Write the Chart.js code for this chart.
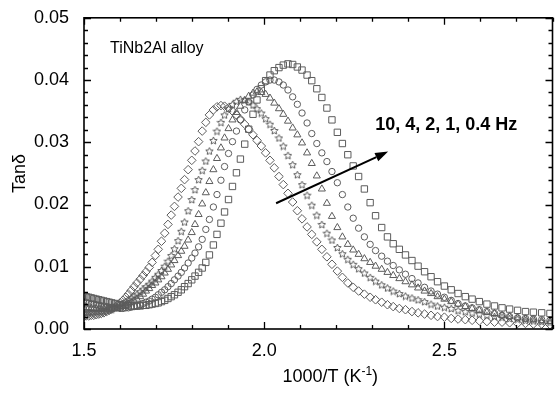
<!DOCTYPE html>
<html>
<head>
<meta charset="utf-8">
<script src="https://cdn.jsdelivr.net/npm/chart.js@4.4.0/dist/chart.umd.min.js"></script>
<style>
  html, body { margin: 0; padding: 0; background: #fff; }
  #wrap { width: 558px; height: 393px; }
</style>
</head>
<body>
<div id="wrap"><canvas id="myChart" width="558" height="393"></canvas></div>
<script>
// 1000/T (K^-1), shared by all frequencies
var invT = [
  1.499, 1.506, 1.513, 1.520, 1.527, 1.534, 1.541, 1.548, 1.555, 1.563, 1.570, 1.577, 1.585,
  1.592, 1.600, 1.608, 1.616, 1.623, 1.631, 1.639, 1.647, 1.656, 1.664, 1.672, 1.681, 1.689,
  1.698, 1.706, 1.715, 1.724, 1.733, 1.742, 1.751, 1.761, 1.770, 1.779, 1.789, 1.799, 1.808,
  1.818, 1.828, 1.838, 1.848, 1.859, 1.869, 1.880, 1.890, 1.901, 1.912, 1.923, 1.934, 1.946,
  1.957, 1.969, 1.980, 1.992, 2.004, 2.016, 2.028, 2.041, 2.053, 2.066, 2.079, 2.092, 2.105,
  2.119, 2.132, 2.146, 2.160, 2.174, 2.188, 2.203, 2.217, 2.232, 2.247, 2.262, 2.278, 2.294,
  2.309, 2.326, 2.342, 2.358, 2.375, 2.392, 2.410, 2.427, 2.445, 2.463, 2.481, 2.500, 2.519,
  2.538, 2.558, 2.577, 2.597, 2.618, 2.639, 2.660, 2.681, 2.703, 2.725, 2.747, 2.770, 2.793
];

var tan10Hz = [
  0.0020, 0.0021, 0.0021, 0.0022, 0.0022, 0.0023, 0.0024, 0.0025, 0.0026, 0.0028, 0.0030, 0.0032, 0.0035,
  0.0038, 0.0042, 0.0046, 0.0051, 0.0056, 0.0062, 0.0068, 0.0074, 0.0080, 0.0086, 0.0092, 0.0099, 0.0107,
  0.0118, 0.0128, 0.0141, 0.0154, 0.0168, 0.0183, 0.0197, 0.0212, 0.0226, 0.0240, 0.0256, 0.0271, 0.0286,
  0.0301, 0.0318, 0.0332, 0.0344, 0.0352, 0.0357, 0.0359, 0.0358, 0.0355, 0.0350, 0.0344, 0.0337, 0.0329,
  0.0321, 0.0312, 0.0303, 0.0294, 0.0283, 0.0271, 0.0259, 0.0245, 0.0232, 0.0218, 0.0204, 0.0190, 0.0177,
  0.0164, 0.0152, 0.0140, 0.0128, 0.0116, 0.0104, 0.0093, 0.0083, 0.0074, 0.0067, 0.0061, 0.0056, 0.0051,
  0.0047, 0.0043, 0.0039, 0.0036, 0.0033, 0.0031, 0.0028, 0.0026, 0.0024, 0.0022, 0.0020, 0.0019, 0.0017,
  0.0016, 0.0015, 0.0014, 0.0013, 0.0012, 0.0011, 0.0011, 0.0010, 0.0009, 0.0009, 0.0008, 0.0008, 0.0007
];

var tan4Hz = [
  0.0026, 0.0026, 0.0027, 0.0027, 0.0027, 0.0028, 0.0028, 0.0029, 0.0029, 0.0030, 0.0031, 0.0032, 0.0034,
  0.0036, 0.0038, 0.0041, 0.0044, 0.0047, 0.0050, 0.0053, 0.0056, 0.0060, 0.0064, 0.0068, 0.0072, 0.0077,
  0.0083, 0.0088, 0.0094, 0.0101, 0.0109, 0.0118, 0.0129, 0.0142, 0.0157, 0.0172, 0.0190, 0.0208, 0.0224,
  0.0240, 0.0255, 0.0270, 0.0286, 0.0303, 0.0318, 0.0332, 0.0344, 0.0354, 0.0361, 0.0366, 0.0369, 0.0368,
  0.0365, 0.0360, 0.0354, 0.0347, 0.0338, 0.0329, 0.0319, 0.0307, 0.0294, 0.0279, 0.0264, 0.0248, 0.0232,
  0.0215, 0.0199, 0.0183, 0.0168, 0.0154, 0.0143, 0.0131, 0.0121, 0.0112, 0.0104, 0.0097, 0.0090, 0.0083,
  0.0077, 0.0071, 0.0066, 0.0061, 0.0057, 0.0053, 0.0050, 0.0047, 0.0044, 0.0040, 0.0037, 0.0035, 0.0033,
  0.0030, 0.0028, 0.0026, 0.0024, 0.0022, 0.0020, 0.0019, 0.0017, 0.0016, 0.0014, 0.0013, 0.0012, 0.0011
];

var tan2Hz = [
  0.0034, 0.0034, 0.0034, 0.0033, 0.0033, 0.0033, 0.0032, 0.0032, 0.0032, 0.0032, 0.0032, 0.0032, 0.0033,
  0.0033, 0.0034, 0.0036, 0.0038, 0.0040, 0.0042, 0.0045, 0.0048, 0.0052, 0.0056, 0.0061, 0.0065, 0.0070,
  0.0074, 0.0079, 0.0084, 0.0090, 0.0096, 0.0103, 0.0110, 0.0118, 0.0125, 0.0133, 0.0143, 0.0155, 0.0168,
  0.0184, 0.0201, 0.0219, 0.0237, 0.0256, 0.0274, 0.0291, 0.0307, 0.0322, 0.0336, 0.0348, 0.0358, 0.0367,
  0.0374, 0.0379, 0.0381, 0.0380, 0.0377, 0.0371, 0.0363, 0.0354, 0.0345, 0.0334, 0.0323, 0.0312, 0.0299,
  0.0283, 0.0266, 0.0246, 0.0225, 0.0202, 0.0181, 0.0163, 0.0148, 0.0136, 0.0127, 0.0120, 0.0113, 0.0107,
  0.0101, 0.0096, 0.0091, 0.0086, 0.0081, 0.0076, 0.0071, 0.0066, 0.0061, 0.0057, 0.0052, 0.0048, 0.0044,
  0.0040, 0.0036, 0.0033, 0.0030, 0.0027, 0.0025, 0.0022, 0.0020, 0.0018, 0.0016, 0.0015, 0.0013, 0.0012
];

var tan1Hz = [
  0.0043, 0.0042, 0.0041, 0.0040, 0.0040, 0.0039, 0.0038, 0.0037, 0.0037, 0.0036, 0.0035, 0.0035, 0.0034,
  0.0034, 0.0033, 0.0033, 0.0034, 0.0034, 0.0035, 0.0036, 0.0037, 0.0039, 0.0041, 0.0043, 0.0045, 0.0048,
  0.0051, 0.0055, 0.0059, 0.0063, 0.0068, 0.0073, 0.0079, 0.0085, 0.0091, 0.0098, 0.0106, 0.0114, 0.0122,
  0.0132, 0.0144, 0.0160, 0.0176, 0.0196, 0.0216, 0.0239, 0.0261, 0.0282, 0.0301, 0.0318, 0.0336, 0.0352,
  0.0365, 0.0376, 0.0385, 0.0392, 0.0397, 0.0400, 0.0400, 0.0397, 0.0392, 0.0384, 0.0373, 0.0361, 0.0347,
  0.0331, 0.0314, 0.0298, 0.0283, 0.0269, 0.0253, 0.0235, 0.0216, 0.0196, 0.0178, 0.0162, 0.0148, 0.0136,
  0.0126, 0.0117, 0.0109, 0.0102, 0.0095, 0.0088, 0.0081, 0.0074, 0.0067, 0.0061, 0.0056, 0.0051, 0.0046,
  0.0041, 0.0037, 0.0034, 0.0031, 0.0028, 0.0025, 0.0022, 0.0020, 0.0018, 0.0017, 0.0016, 0.0015, 0.0014
];

var tan04Hz = [
  0.0053, 0.0052, 0.0051, 0.0050, 0.0049, 0.0048, 0.0047, 0.0046, 0.0045, 0.0044, 0.0043, 0.0042, 0.0041,
  0.0040, 0.0039, 0.0038, 0.0038, 0.0037, 0.0037, 0.0037, 0.0037, 0.0037, 0.0038, 0.0038, 0.0039, 0.0040,
  0.0041, 0.0042, 0.0044, 0.0046, 0.0049, 0.0052, 0.0055, 0.0059, 0.0063, 0.0068, 0.0073, 0.0079, 0.0085,
  0.0091, 0.0098, 0.0107, 0.0119, 0.0135, 0.0152, 0.0170, 0.0188, 0.0208, 0.0229, 0.0251, 0.0273, 0.0297,
  0.0321, 0.0345, 0.0368, 0.0386, 0.0399, 0.0408, 0.0415, 0.0420, 0.0424, 0.0426, 0.0425, 0.0421, 0.0416,
  0.0408, 0.0399, 0.0386, 0.0372, 0.0355, 0.0336, 0.0316, 0.0298, 0.0280, 0.0262, 0.0245, 0.0225, 0.0203,
  0.0182, 0.0163, 0.0148, 0.0137, 0.0128, 0.0119, 0.0110, 0.0101, 0.0092, 0.0084, 0.0076, 0.0069, 0.0063,
  0.0057, 0.0052, 0.0048, 0.0044, 0.0040, 0.0037, 0.0034, 0.0032, 0.0030, 0.0028, 0.0027, 0.0026, 0.0025
];

var freqLabels = ["10 Hz", "4 Hz", "2 Hz", "1 Hz", "0.4 Hz"];

var xTicks = [1.5, 2.0, 2.5];
var xMinorTicks = [1.6, 1.7, 1.8, 1.9, 2.1, 2.2, 2.3, 2.4, 2.6, 2.7, 2.8];
var yTicks = [0, 0.01, 0.02, 0.03, 0.04, 0.05];
var yMinorTicks = [
  0.002, 0.004, 0.006, 0.008, 0.012, 0.014, 0.016, 0.018, 0.022, 0.024, 0.026, 0.028,
  0.032, 0.034, 0.036, 0.038, 0.042, 0.044, 0.046, 0.048
];

// arrow and labels, in data units
var arrowFrom = [2.033, 0.0202];
var arrowTo = [2.344, 0.0285];
var freqNote = "10, 4, 2, 1, 0.4 Hz";
var freqNotePos = [2.308, 0.0327];
var alloyNote = "TiNb2Al alloy";
var alloyNotePos = [1.572, 0.0451];

const FONT = "'Liberation Sans', Arial, sans-serif";
const markColor = "#5c5c5c";

function starMark(size, color) {
  const c = document.createElement("canvas");
  c.width = size;
  c.height = size;
  const g = c.getContext("2d");
  const cx = size / 2, cy = size / 2 + 0.4;
  const R = size / 2 - 0.6, r = R * 0.47;
  g.beginPath();
  for (let i = 0; i < 10; i++) {
    const rad = i % 2 ? r : R;
    const ang = -Math.PI / 2 + (i * Math.PI) / 5;
    g.lineTo(cx + rad * Math.cos(ang), cy + rad * Math.sin(ang));
  }
  g.closePath();
  g.strokeStyle = color;
  g.lineWidth = 1;
  g.stroke();
  return c;
}

function toPoints(ys) {
  return ys.map((y, i) => ({ x: invT[i], y: y }));
}

const seriesValues = [tan10Hz, tan4Hz, tan2Hz, tan1Hz, tan04Hz];
const seriesStyle = [
  { pointStyle: "rectRot", radius: 4.3 },
  { pointStyle: starMark(9, markColor), radius: 4.5 },
  { pointStyle: "triangle", radius: 4.1 },
  { pointStyle: "circle", radius: 3.2 },
  { pointStyle: "rect", radius: 4.5 },
];

const datasets = seriesValues.map((ys, k) => ({
  label: freqLabels[k],
  data: toPoints(ys),
  showLine: false,
  pointStyle: seriesStyle[k].pointStyle,
  pointRadius: seriesStyle[k].radius,
  pointBorderColor: markColor,
  pointBackgroundColor: "rgba(0,0,0,0)",
  pointBorderWidth: 1,
}));

const frameTicks = {
  id: "frameTicks",
  afterDatasetsDraw(chart) {
    const { ctx, chartArea: a, scales } = chart;
    ctx.save();
    ctx.strokeStyle = "#000";
    ctx.lineWidth = 1.3;
    ctx.beginPath();
    xTicks.concat(xMinorTicks).forEach((v) => {
      const len = xTicks.indexOf(v) >= 0 ? 7 : 4;
      const px = Math.round(scales.x.getPixelForValue(v)) + 0.5;
      ctx.moveTo(px, a.bottom);
      ctx.lineTo(px, a.bottom - len);
      ctx.moveTo(px, a.top);
      ctx.lineTo(px, a.top + len);
    });
    yTicks.concat(yMinorTicks).forEach((v) => {
      const len = yTicks.indexOf(v) >= 0 ? 7 : 4;
      const py = Math.round(scales.y.getPixelForValue(v)) + 0.5;
      ctx.moveTo(a.left, py);
      ctx.lineTo(a.left + len, py);
      ctx.moveTo(a.right, py);
      ctx.lineTo(a.right - len, py);
    });
    ctx.stroke();
    ctx.lineWidth = 1.6;
    ctx.strokeRect(a.left, a.top, a.right - a.left, a.bottom - a.top);

    // arrow
    const x1 = scales.x.getPixelForValue(arrowFrom[0]);
    const y1 = scales.y.getPixelForValue(arrowFrom[1]);
    const x2 = scales.x.getPixelForValue(arrowTo[0]);
    const y2 = scales.y.getPixelForValue(arrowTo[1]);
    const ang = Math.atan2(y2 - y1, x2 - x1);
    const headLen = 13, headW = 4.5;
    const bx = x2 - headLen * Math.cos(ang), by = y2 - headLen * Math.sin(ang);
    ctx.lineWidth = 2;
    ctx.beginPath();
    ctx.moveTo(x1, y1);
    ctx.lineTo(bx, by);
    ctx.stroke();
    ctx.fillStyle = "#000";
    ctx.beginPath();
    ctx.moveTo(x2, y2);
    ctx.lineTo(bx + headW * Math.sin(ang), by - headW * Math.cos(ang));
    ctx.lineTo(bx - headW * Math.sin(ang), by + headW * Math.cos(ang));
    ctx.closePath();
    ctx.fill();

    // notes
    ctx.textBaseline = "middle";
    ctx.textAlign = "left";
    ctx.font = "bold 18px " + FONT;
    ctx.fillText(freqNote, scales.x.getPixelForValue(freqNotePos[0]), scales.y.getPixelForValue(freqNotePos[1]));
    ctx.font = "16px " + FONT;
    ctx.fillText(alloyNote, scales.x.getPixelForValue(alloyNotePos[0]), scales.y.getPixelForValue(alloyNotePos[1]));

    // x axis title with superscript
    const main = "1000/T (K", sup = "-1", tail = ")";
    ctx.textBaseline = "alphabetic";
    ctx.font = "18px " + FONT;
    const wMain = ctx.measureText(main).width;
    const wTail = ctx.measureText(tail).width;
    ctx.font = "12px " + FONT;
    const wSup = ctx.measureText(sup).width;
    const cx = (a.left + a.right) / 2 + 12;
    const base = 382;
    let tx = cx - (wMain + wSup + wTail) / 2;
    ctx.font = "18px " + FONT;
    ctx.fillText(main, tx, base);
    tx += wMain;
    ctx.font = "12px " + FONT;
    ctx.fillText(sup, tx, base - 7);
    tx += wSup;
    ctx.font = "18px " + FONT;
    ctx.fillText(tail, tx, base);
    ctx.restore();
  },
};

const ctx = document.getElementById("myChart").getContext("2d");

const myChart = new Chart(ctx, {
  type: "scatter",
  data: { datasets: datasets },
  plugins: [frameTicks],
  options: {
    responsive: false,
    animation: false,
    layout: { padding: { top: 12, right: 5, left: 0, bottom: 0 } },
    plugins: { legend: { display: false }, tooltip: { enabled: false } },
    scales: {
      x: {
        type: "linear",
        min: 1.5,
        max: 2.8,
        grid: { display: false },
        border: { display: false },
        afterBuildTicks: (s) => { s.ticks = xTicks.map((v) => ({ value: v })); },
        afterFit: (s) => { s.height = 64; },
        ticks: {
          padding: 3,
          color: "#000",
          font: { family: FONT, size: 18 },
          callback: (v) => Number(v).toFixed(1),
        },
      },
      y: {
        type: "linear",
        min: 0,
        max: 0.05,
        grid: { display: false },
        border: { display: false },
        afterBuildTicks: (s) => { s.ticks = yTicks.map((v) => ({ value: v })); },
        afterFit: (s) => { s.width = 84; },
        ticks: {
          padding: 7,
          color: "#000",
          font: { family: FONT, size: 18 },
          callback: (v) => Number(v).toFixed(2),
        },
        title: {
          display: true,
          text: "Tan\u03B4",
          color: "#000",
          font: { family: FONT, size: 18 },
          padding: { top: 9, bottom: 0 },
        },
      },
    },
  },
});
</script>
</body>
</html>
